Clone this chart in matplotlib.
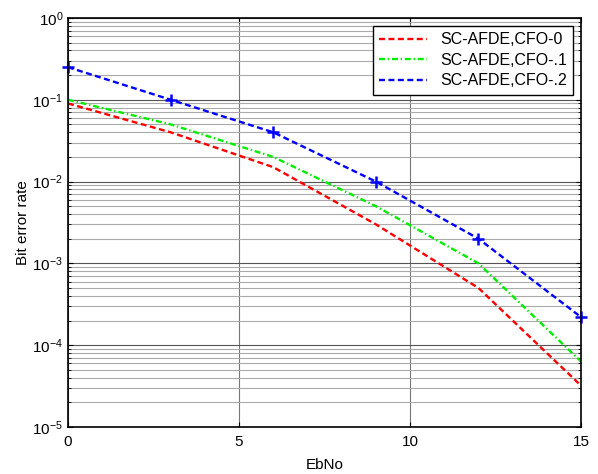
import matplotlib
matplotlib.use('Agg')
import matplotlib.pyplot as plt
from matplotlib.ticker import LogLocator, FixedLocator

plt.rcParams.update({'font.size': 11, 'font.family': 'Liberation Sans',
                     'mathtext.default': 'regular', 'lines.scale_dashes': False})

ebno = [0, 3, 6, 9, 12, 15]
ber_cfo0 = [0.09, 0.04, 0.015, 0.003, 5e-4, 3.2e-5]
ber_cfo1 = [0.1, 0.05, 0.02, 0.005, 1e-3, 6.3e-5]
ber_cfo2 = [0.25, 0.1, 0.04, 0.01, 2e-3, 2.2e-4]
labels = ['SC-AFDE,CFO-0', 'SC-AFDE,CFO-.1', 'SC-AFDE,CFO-.2']

dash = (0, (4.3, 2.5))
dashdot = (0, (4.3, 2.0, 1.0, 2.0))

fig = plt.figure(figsize=(5.98, 4.74), dpi=100)
ax = fig.add_axes([0.1137, 0.0992, 0.858, 0.863])

ax.semilogy(ebno, ber_cfo0, ls=dash, color='#ff0000', lw=1.7, label=labels[0])
ax.semilogy(ebno, ber_cfo1, ls=dashdot, color='#00ee00', lw=1.7, label=labels[1])
ax.semilogy(ebno, ber_cfo2, ls=dash, color='#0000ff', lw=1.7, label=labels[2])
ax.semilogy(ebno, ber_cfo2, ls='none', color='#0000ff', marker='+',
            ms=9, mew=1.8, clip_on=False)

ax.set_xlim(0, 15)
ax.set_ylim(1e-5, 1)
ax.xaxis.set_major_locator(FixedLocator([0, 5, 10, 15]))
ax.yaxis.set_major_locator(LogLocator(base=10, numticks=10))
ax.yaxis.set_minor_locator(LogLocator(base=10, subs=range(2, 10), numticks=10))

ax.grid(True, which='major', axis='y', color='#555555', lw=0.8)
ax.grid(True, which='major', axis='x', color='#777777', lw=0.8)
ax.grid(True, which='minor', axis='y', color='#aaaaaa', lw=0.8)
ax.tick_params(which='both', direction='in', top=True, right=True, labelsize=11)
ax.tick_params(axis='x', pad=6)
for s in ax.spines.values():
    s.set_linewidth(1.2)

ax.set_xlabel('EbNo')
ax.set_ylabel('Bit error rate')
ax.xaxis.set_label_coords(0.5, -0.075)
ax.yaxis.set_label_coords(-0.075, 0.5)

leg = ax.legend(loc='upper right', fancybox=False, framealpha=1,
                edgecolor='black', fontsize=11.5, handlelength=3.0,
                borderaxespad=0.5, labelspacing=0.35, borderpad=0.4)
leg.get_frame().set_linewidth(1.0)

fig.savefig('out.png', dpi=100)
